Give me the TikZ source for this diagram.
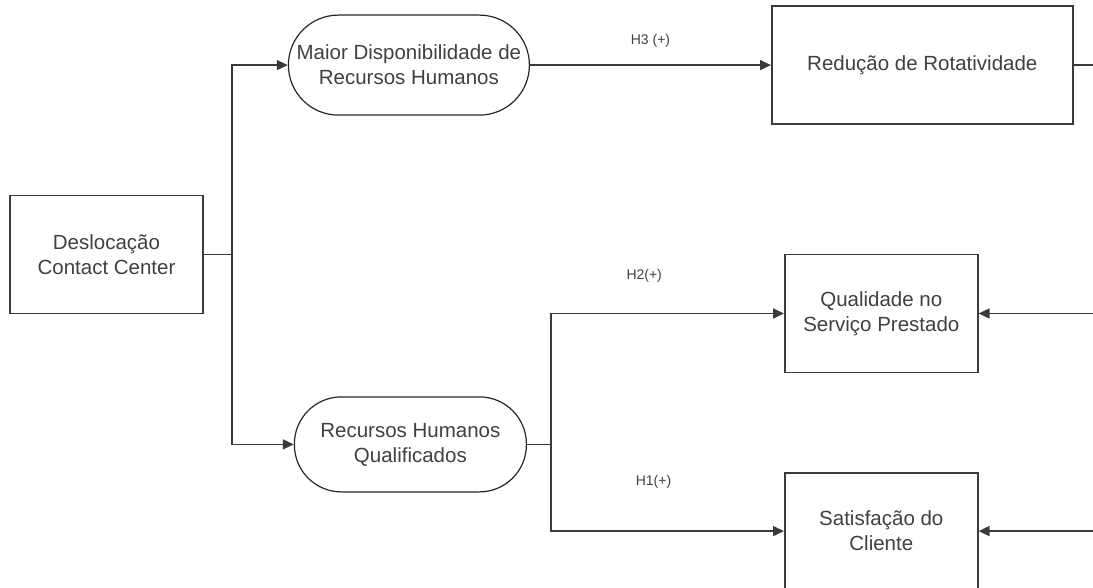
\documentclass[tikz,border=0pt]{standalone}
\usepackage{fontspec}
\setmainfont{Liberation Sans}
\usepackage{tikz}
\usepackage{xcolor}
\usetikzlibrary{positioning, arrows.meta}

\definecolor{linegray}{HTML}{3A3A3A}
\definecolor{textgray}{HTML}{404040}

\begin{document}
\begin{tikzpicture}[
  x=1pt, y=1pt,
  block/.style={draw=linegray, line width=1.6pt, minimum width=193pt, minimum height=118pt, inner sep=0pt, align=center, text=textgray, font=\fontsize{20.5}{25}\selectfont},
  capsule/.style={draw=black!85, line width=1.2pt, rounded corners=#1, inner sep=0pt, align=center, text=textgray, font=\fontsize{20.5}{25}\selectfont},
  hyplabel/.style={font=\fontsize{14}{16}\selectfont, text=textgray},
  link/.style={draw=linegray, line width=1.6pt},
  >={Triangle[length=11pt, width=10pt]}
]
\useasboundingbox (0,0) rectangle (1093,-588);

% Antecedent and mediators
\node[block] (desl) at (106.5,-254.5) {Deslocação\\Contact Center};
\node[capsule=50pt, minimum width=241pt, minimum height=100pt, above right=79pt and 84pt of desl] (maior) {Maior Disponibilidade de\\Recursos Humanos};
\node[capsule=47pt, minimum width=232pt, minimum height=95pt, below right=82pt and 90pt of desl] (rhq) {Recursos Humanos\\Qualificados};

% Outcomes
\node[block, minimum width=301pt, right=241pt of maior] (reduc) {Redução de Rotatividade};
\node[block, above right=23pt and 257pt of rhq] (qual) {Qualidade no\\Serviço Prestado};
\node[block, minimum height=116pt, below=99pt of qual] (satisf) {Satisfação do\\Cliente};

% Free ends at the right border
\coordinate[right=23pt of reduc.east] (edgeA);
\coordinate[right=115pt of qual.east] (edgeB);
\coordinate[right=115pt of satisf.east] (edgeC);

% Connectors
\draw[link] (desl.east) -- ++(28,0) coordinate (split);
\draw[link, ->] (split) |- (maior.west);
\draw[link, ->] (split) |- (rhq.west);
\draw[link, ->] (maior) -- node[hyplabel, above=14pt] {H3 (+)} (reduc);
\draw[link] (reduc) -- (edgeA);
\draw[link] (rhq.east) -- ++(24,0) coordinate (split2);
\draw[link, ->] (split2) |- node[hyplabel, pos=0.7, above=27pt] {H2(+)} (qual.west);
\draw[link, ->] (split2) |- node[hyplabel, pos=0.72, above=39pt] {H1(+)} (satisf.west);
\draw[link, ->] (edgeB) -- (qual);
\draw[link, ->] (edgeC) -- (satisf);

\end{tikzpicture}
\end{document}
